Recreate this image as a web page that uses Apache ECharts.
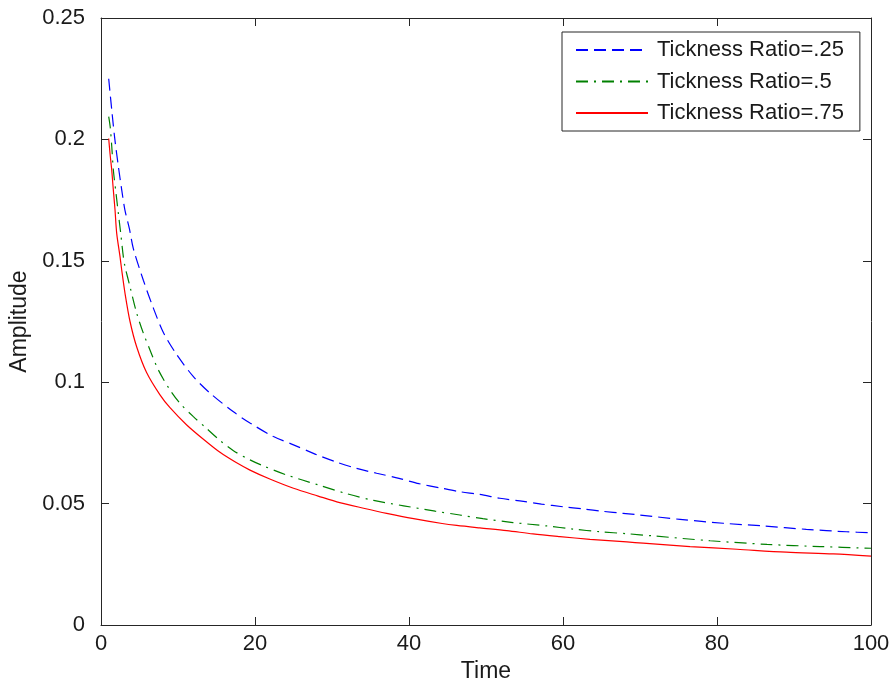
<!DOCTYPE html>
<html>
<head>
<meta charset="utf-8">
<script src="https://cdn.jsdelivr.net/npm/echarts@6/dist/echarts.min.js"></script>
<style>
html,body{margin:0;padding:0;background:#fff;}
#c{width:895px;height:688px;}
</style>
</head>
<body>
<div id="c"></div>
<script>
// Series names
const seriesNames = ["Tickness Ratio=.25", "Tickness Ratio=.5", "Tickness Ratio=.75"];

// Tickness Ratio = .25 (blue dashed)
const timeBlue = [1, 1.4, 1.8, 2.25, 2.7, 3.1, 3.7, 4.2, 5.5, 6.8, 8.1, 9.8, 12, 14.2, 17.2, 19.4, 22.4, 25, 27.8, 30.4, 33.2, 35.8, 38.7, 41.3, 44, 46.6, 49.2, 51.8, 54.4, 57.2, 60, 62.6, 65.2, 67.8, 70, 75.2, 80.8, 86, 91.6, 96.8, 100];
const ampBlue  = [0.225, 0.212, 0.200, 0.189, 0.179, 0.171, 0.163, 0.155, 0.142, 0.1305, 0.1205, 0.1115, 0.1023, 0.0954, 0.0878, 0.0831, 0.0776, 0.0742, 0.0704, 0.0673, 0.0645, 0.0625, 0.0604, 0.0582, 0.0565, 0.0549, 0.0538, 0.0522, 0.0511, 0.0498, 0.0487, 0.0478, 0.0468, 0.0460, 0.0453, 0.0435, 0.0419, 0.0408, 0.0394, 0.0384, 0.0380];

// Tickness Ratio = .5 (green dash-dot)
const timeGreen = [1, 1.2, 1.4, 1.6, 1.95, 2.25, 2.56, 2.9, 3.12, 3.77, 4.64, 5.5, 6.36, 7.44, 8.96, 10.26, 12, 13.7, 15.45, 17.2, 19.35, 21.1, 24.1, 28.2, 31.9, 35.4, 39.3, 43.4, 46.6, 49.6, 53.5, 57.9, 61.3, 64.8, 68.3, 71.7, 79.1, 86.5, 93.4, 100];
const ampGreen  = [0.2094, 0.205, 0.197, 0.1875, 0.1778, 0.1696, 0.1613, 0.1517, 0.1476, 0.1393, 0.1284, 0.1202, 0.1133, 0.1051, 0.0968, 0.0913, 0.0858, 0.0810, 0.0760, 0.0718, 0.0680, 0.0655, 0.0618, 0.0577, 0.0541, 0.0513, 0.0491, 0.0469, 0.0453, 0.0438, 0.0422, 0.0408, 0.0395, 0.0384, 0.0376, 0.0367, 0.0347, 0.0332, 0.0323, 0.0316];

// Tickness Ratio = .75 (red solid)
const timeRed = [1, 1.17, 1.39, 1.6, 1.82, 2.04, 2.47, 2.69, 3.12, 3.77, 4.64, 5.92, 7.66, 8.96, 11.1, 13.3, 15.5, 17.5, 19.35, 22, 25, 28.2, 31, 34.1, 37.1, 40.6, 44.3, 46.2, 49.2, 52.7, 56.1, 59.6, 63.5, 68.3, 70.4, 76.5, 82.6, 89, 95.1, 100];
const ampRed  = [0.2004, 0.1942, 0.1875, 0.1792, 0.171, 0.1613, 0.1517, 0.1462, 0.1366, 0.1250, 0.1145, 0.1040, 0.0948, 0.0895, 0.0825, 0.0765, 0.0710, 0.0670, 0.0638, 0.0600, 0.0563, 0.0531, 0.0504, 0.0481, 0.046, 0.0438, 0.0418, 0.0410, 0.0400, 0.0389, 0.0375, 0.0364, 0.0353, 0.0342, 0.0337, 0.0323, 0.0312, 0.0300, 0.0293, 0.0284];

// Axis settings
const xMin = 0, xMax = 100, xStep = 20;
const yMin = 0, yMax = 0.25, yStep = 0.05;
const xTitle = "Time";
const yTitle = "Amplitude";

function zip(a, b) { return a.map((v, i) => [v, b[i]]); }

const FONT = "'Liberation Sans', Arial, Helvetica, sans-serif";
const AX = '#262626';
const TXT = '#1a1a1a';

const chart = echarts.init(document.getElementById('c'), null, {renderer: 'canvas'});

const axisCommon = {
  type: 'value',
  splitLine: {show: false},
  axisLine: {show: true, onZero: false, lineStyle: {color: AX, width: 1}},
  axisTick: {show: true, inside: true, length: 8, lineStyle: {color: AX, width: 1}},
  minorTick: {show: false}
};

const option = {
  animation: false,
  backgroundColor: '#ffffff',
  textStyle: {fontFamily: FONT},
  grid: {left: 101, right: 24, top: 18, bottom: 63, containLabel: false},
  legend: {
    show: true,
    orient: 'vertical',
    left: 562,
    top: 32,
    backgroundColor: '#ffffff',
    borderColor: AX,
    borderWidth: 1,
    borderRadius: 0,
    padding: [7, 16, 7, 13],
    itemWidth: 72,
    itemHeight: 14,
    itemGap: 9.5,
    itemStyle: {opacity: 0},
    textStyle: {fontFamily: FONT, fontSize: 22, color: TXT, lineHeight: 22, padding: [0, 0, 0, 4]},
    data: seriesNames
  },
  xAxis: [
    Object.assign({}, axisCommon, {
      position: 'bottom', min: xMin, max: xMax, interval: xStep,
      name: xTitle, nameLocation: 'middle', nameGap: 35,
      nameTextStyle: {fontFamily: FONT, fontSize: 23, color: TXT},
      axisLabel: {show: true, margin: 8, fontFamily: FONT, fontSize: 22, color: TXT}
    }),
    Object.assign({}, axisCommon, {
      position: 'top', min: xMin, max: xMax, interval: xStep,
      axisLabel: {show: false}
    })
  ],
  yAxis: [
    Object.assign({}, axisCommon, {
      position: 'left', min: yMin, max: yMax, interval: yStep,
      name: yTitle, nameLocation: 'middle', nameGap: 65,
      nameTextStyle: {fontFamily: FONT, fontSize: 23, color: TXT},
      axisLabel: {show: true, margin: 16, fontFamily: FONT, fontSize: 22, color: TXT}
    }),
    Object.assign({}, axisCommon, {
      position: 'right', min: yMin, max: yMax, interval: yStep,
      axisLabel: {show: false}
    })
  ],
  series: [
    {
      name: seriesNames[0], type: 'line', xAxisIndex: 0, yAxisIndex: 0,
      data: zip(timeBlue, ampBlue), showSymbol: false, symbol: 'none', smooth: 0.3,
      lineStyle: {color: '#0000ff', width: 1.2, type: [12, 6]},
      itemStyle: {color: '#0000ff'}
    },
    {
      name: seriesNames[1], type: 'line', xAxisIndex: 0, yAxisIndex: 0,
      data: zip(timeGreen, ampGreen), showSymbol: false, symbol: 'none', smooth: 0.3,
      lineStyle: {color: '#008000', width: 1.2, type: [12, 6, 2, 6]},
      itemStyle: {color: '#008000'}
    },
    {
      name: seriesNames[2], type: 'line', xAxisIndex: 0, yAxisIndex: 0,
      data: zip(timeRed, ampRed), showSymbol: false, symbol: 'none', smooth: 0.3,
      lineStyle: {color: '#ff0000', width: 1.2, type: 'solid'},
      itemStyle: {color: '#ff0000'}
    }
  ]
};

chart.setOption(option);
</script>
</body>
</html>
